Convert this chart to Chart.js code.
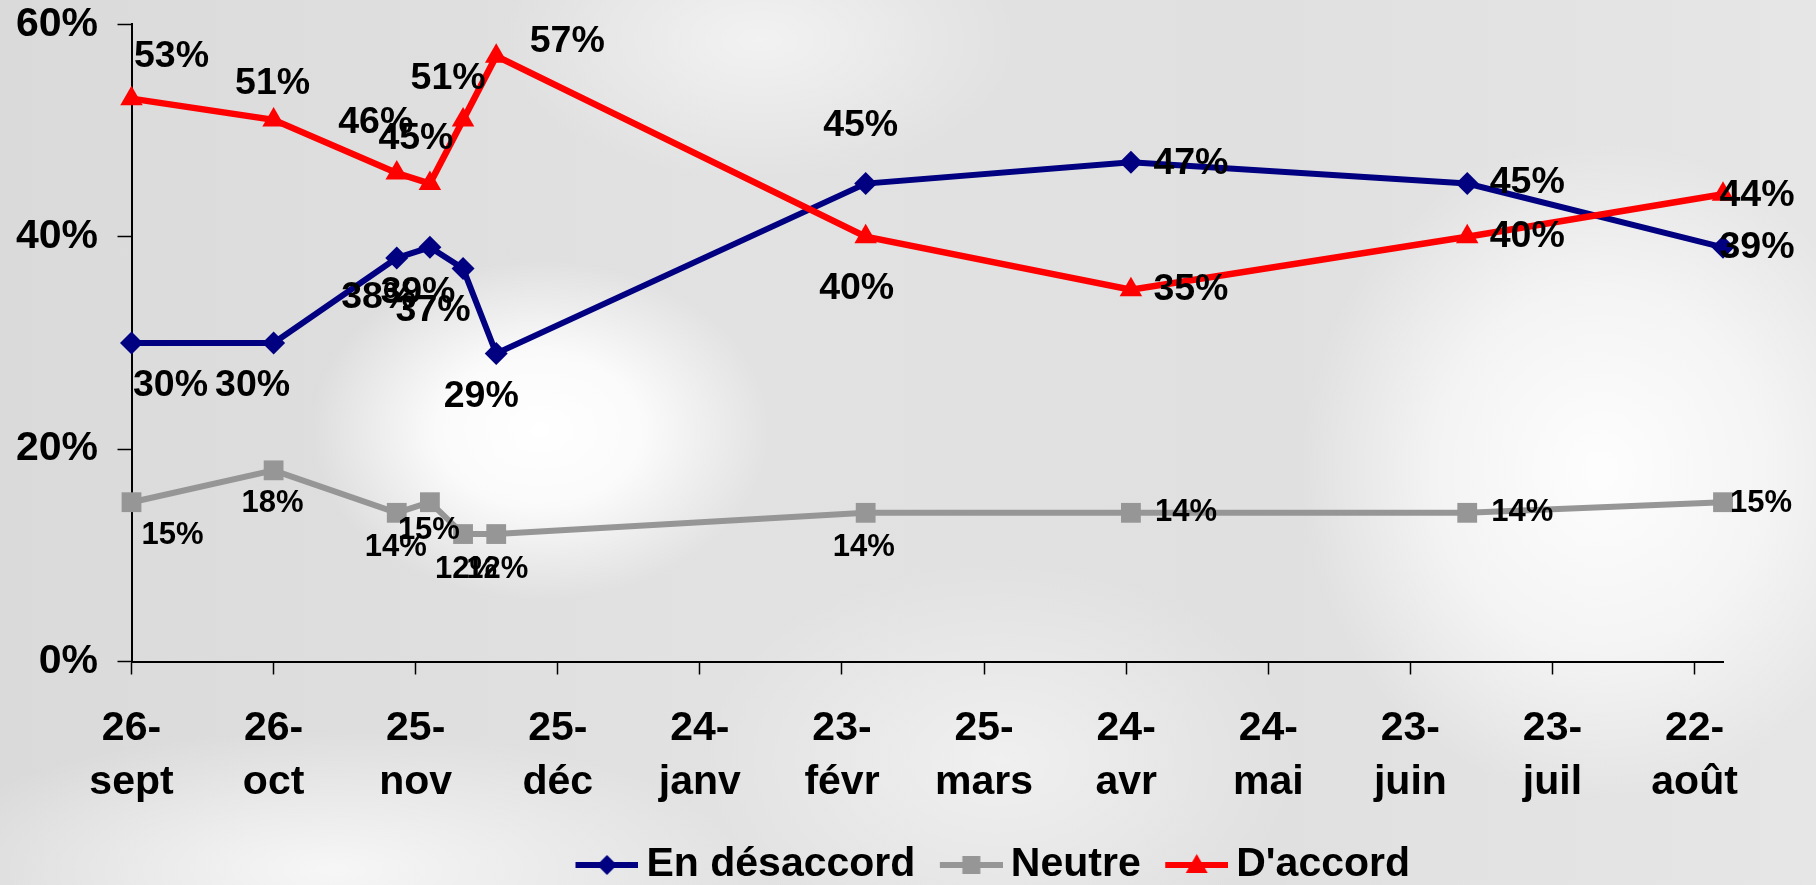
<!DOCTYPE html>
<html>
<head>
<meta charset="utf-8">
<script src="https://cdn.jsdelivr.net/npm/chart.js@4.4.1/dist/chart.umd.min.js"></script>
<style>
html, body { margin: 0; padding: 0; width: 1816px; height: 885px; overflow: hidden; }
body {
  background:
    radial-gradient(ellipse 230px 170px at 540px 430px, rgba(255,255,255,1) 0%, rgba(255,255,255,0.85) 45%, rgba(255,255,255,0) 100%),
    radial-gradient(ellipse 300px 330px at 1600px 470px, rgba(255,255,255,0.95) 0%, rgba(255,255,255,0.6) 55%, rgba(255,255,255,0) 100%),
    radial-gradient(ellipse 420px 140px at 330px 870px, rgba(255,255,255,0.75) 0%, rgba(255,255,255,0) 100%),
    radial-gradient(ellipse 260px 140px at 760px 40px, rgba(255,255,255,0.55) 0%, rgba(255,255,255,0) 100%),
    radial-gradient(ellipse 300px 200px at 1000px 760px, rgba(255,255,255,0.5) 0%, rgba(255,255,255,0) 100%),
    linear-gradient(90deg, #dadada 0%, #e2e2e2 40%, #e0e0e0 70%, #e6e6e6 100%);
}
#wrap { position: relative; width: 1816px; height: 885px; }
canvas { display: block; }
</style>
</head>
<body>
<div id="wrap"><canvas id="c" width="1816" height="885"></canvas></div>
<script>
// ---- data ----
const dates = ['2002-09-26','2002-10-26','2002-11-21','2002-11-28','2002-12-05','2002-12-12','2003-02-28','2003-04-25','2003-07-05','2003-08-28'];
const enDesaccord = [30, 30, 38, 39, 37, 29, 45, 47, 45, 39];
const neutre      = [15, 18, 14, 15, 12, 12, 14, 14, 14, 15];
const dAccord     = [53, 51, 46, 45, 51, 57, 40, 35, 40, 44];
const seriesNames = ['En désaccord', 'Neutre', "D'accord"];
const tickDates = ['2002-09-26','2002-10-26','2002-11-25','2002-12-25','2003-01-24','2003-02-23','2003-03-25','2003-04-24','2003-05-24','2003-06-23','2003-07-23','2003-08-22'];
const tickLabels = [['26-','sept'],['26-','oct'],['25-','nov'],['25-','déc'],['24-','janv'],['23-','févr'],['25-','mars'],['24-','avr'],['24-','mai'],['23-','juin'],['23-','juil'],['22-','août']];
const yTicks = [0, 20, 40, 60];

// ---- helpers ----
const DAY = 86400000;
function parseDate(s) { const p = s.split('-').map(Number); return Date.UTC(p[0], p[1] - 1, p[2]); }
const origin = parseDate(tickDates[0]);
const dayNum = s => Math.round((parseDate(s) - origin) / DAY);
const xMax = dayNum(dates[dates.length - 1]);
const tickDays = tickDates.map(dayNum);
const pts = arr => dates.map((d, i) => ({ x: dayNum(d), y: arr[i] }));

// label placement (style: offset of each value label from its point, in px)
const labelStyle = {
  'En désaccord': { size: 37.5, off: [[39,43],[-21,43],[-18,40],[-12,45],[-30,42],[-15,43],[-5,-58],[60,1],[60,-1],[34,0]] },
  'Neutre':       { size: 31,   off: [[41,33],[-1,33],[-1,35],[-1,28],[3,35],[1,35],[-2,35],[55,0],[55,0],[38,1]] },
  "D'accord":     { size: 37.5, off: [[40,-42],[-1,-36],[-21,-50],[-14,-45],[-15,-41],[71,-15],[-9,52],[60,0],[60,0],[34,1]] }
};

const FONT = "'Liberation Sans', Arial, sans-serif";
const colors = ['#000080', '#969696', '#ff0000'];

function makeIcon(color, shape) {
  const c = document.createElement('canvas');
  c.width = 90; c.height = 30;
  const g = c.getContext('2d');
  g.strokeStyle = color; g.lineWidth = 6;
  g.beginPath(); g.moveTo(27, 15); g.lineTo(90, 15); g.stroke();
  g.fillStyle = color;
  const cx = 58.5, cy = 15;
  g.beginPath();
  if (shape === 'diamond') { g.moveTo(cx, cy - 10); g.lineTo(cx + 10, cy); g.lineTo(cx, cy + 10); g.lineTo(cx - 10, cy); }
  else if (shape === 'square') { g.rect(cx - 9, cy - 9, 18, 18); }
  else { g.moveTo(cx, cy - 11); g.lineTo(cx + 11, cy + 8); g.lineTo(cx - 11, cy + 8); }
  g.closePath(); g.fill();
  return c;
}
const legendIcons = [makeIcon(colors[0], 'diamond'), makeIcon(colors[1], 'square'), makeIcon(colors[2], 'triangle')];

const valueLabels = {
  id: 'valueLabels',
  afterDatasetsDraw(chart) {
    const ctx = chart.ctx;
    chart.data.datasets.forEach((ds, i) => {
      const meta = chart.getDatasetMeta(i);
      const st = labelStyle[ds.label];
      ctx.save();
      ctx.font = 'bold ' + st.size + 'px ' + FONT;
      ctx.fillStyle = '#000';
      ctx.textAlign = 'center';
      ctx.textBaseline = 'middle';
      meta.data.forEach((pt, j) => {
        ctx.fillText(ds.data[j].y + '%', pt.x + st.off[j][0], pt.y + st.off[j][1]);
      });
      ctx.restore();
    });
  }
};

const legendShift = {
  id: 'legendShift',
  afterLayout(chart) {
    const l = chart.legend;
    if (!l) return;
    l.left += 124; l.right += 124;
    l.top += 10.5; l.bottom += 10.5;
  }
};

new Chart(document.getElementById('c'), {
  type: 'line',
  data: {
    datasets: [
      { label: seriesNames[0], data: pts(enDesaccord), borderColor: colors[0], backgroundColor: colors[0],
        borderWidth: 6, pointStyle: 'rectRot', pointRadius: 11.5, pointHoverRadius: 11.5, pointBorderWidth: 0, order: 3, clip: false },
      { label: seriesNames[1], data: pts(neutre), borderColor: colors[1], backgroundColor: colors[1],
        borderWidth: 6, pointStyle: 'rect', pointRadius: 14, pointHoverRadius: 14, pointBorderWidth: 0, order: 2, clip: false },
      { label: seriesNames[2], data: pts(dAccord), borderColor: colors[2], backgroundColor: colors[2],
        borderWidth: 6.5, pointStyle: 'triangle', pointRadius: 13, pointHoverRadius: 13, pointBorderWidth: 0, order: 1, clip: false }
    ]
  },
  options: {
    responsive: false,
    devicePixelRatio: 1,
    animation: false,
    events: [],
    layout: { padding: { top: 24.3, right: 93, bottom: 0, left: 0 } },
    scales: {
      x: {
        type: 'linear',
        min: 0,
        max: xMax,
        afterBuildTicks: s => { s.ticks = tickDays.map(v => ({ value: v })); },
        afterFit: s => { s.height = 162.5; s.paddingLeft = 0; s.paddingRight = 0; },
        grid: { display: true, drawOnChartArea: false, drawTicks: true, tickLength: 13, tickColor: '#000', tickWidth: 1.5 },
        border: { display: true, color: '#000', width: 2 },
        ticks: {
          autoSkip: false, maxRotation: 0, minRotation: 0, padding: 28, color: '#000',
          font: { family: FONT, size: 41, weight: 'bold', lineHeight: 1.3 },
          callback: (v, i) => tickLabels[i]
        }
      },
      y: {
        type: 'linear',
        min: 0,
        max: 60,
        afterBuildTicks: s => { s.ticks = yTicks.map(v => ({ value: v })); },
        afterFit: s => { s.width = 131.5; s.paddingTop = 0; s.paddingBottom = 0; },
        grid: { display: true, drawOnChartArea: false, drawTicks: true, tickLength: 14, tickColor: '#000', tickWidth: 1.5 },
        border: { display: true, color: '#000', width: 2 },
        ticks: {
          padding: 19.5, color: '#000',
          font: { family: FONT, size: 41, weight: 'bold', lineHeight: 1 },
          callback: v => v + '%'
        }
      }
    },
    plugins: {
      tooltip: { enabled: false },
      legend: {
        position: 'bottom',
        labels: {
          usePointStyle: true,
          pointStyleWidth: 65,
          padding: 10,
          color: '#000',
          font: { family: FONT, size: 41, weight: 'bold' },
          generateLabels: chart => chart.data.datasets.map((ds, i) => ({
            text: ds.label, pointStyle: legendIcons[i], fillStyle: ds.borderColor, strokeStyle: ds.borderColor,
            lineWidth: 0, hidden: false, datasetIndex: i, fontColor: '#000'
          }))
        }
      }
    }
  },
  plugins: [valueLabels, legendShift]
});
</script>
</body>
</html>
